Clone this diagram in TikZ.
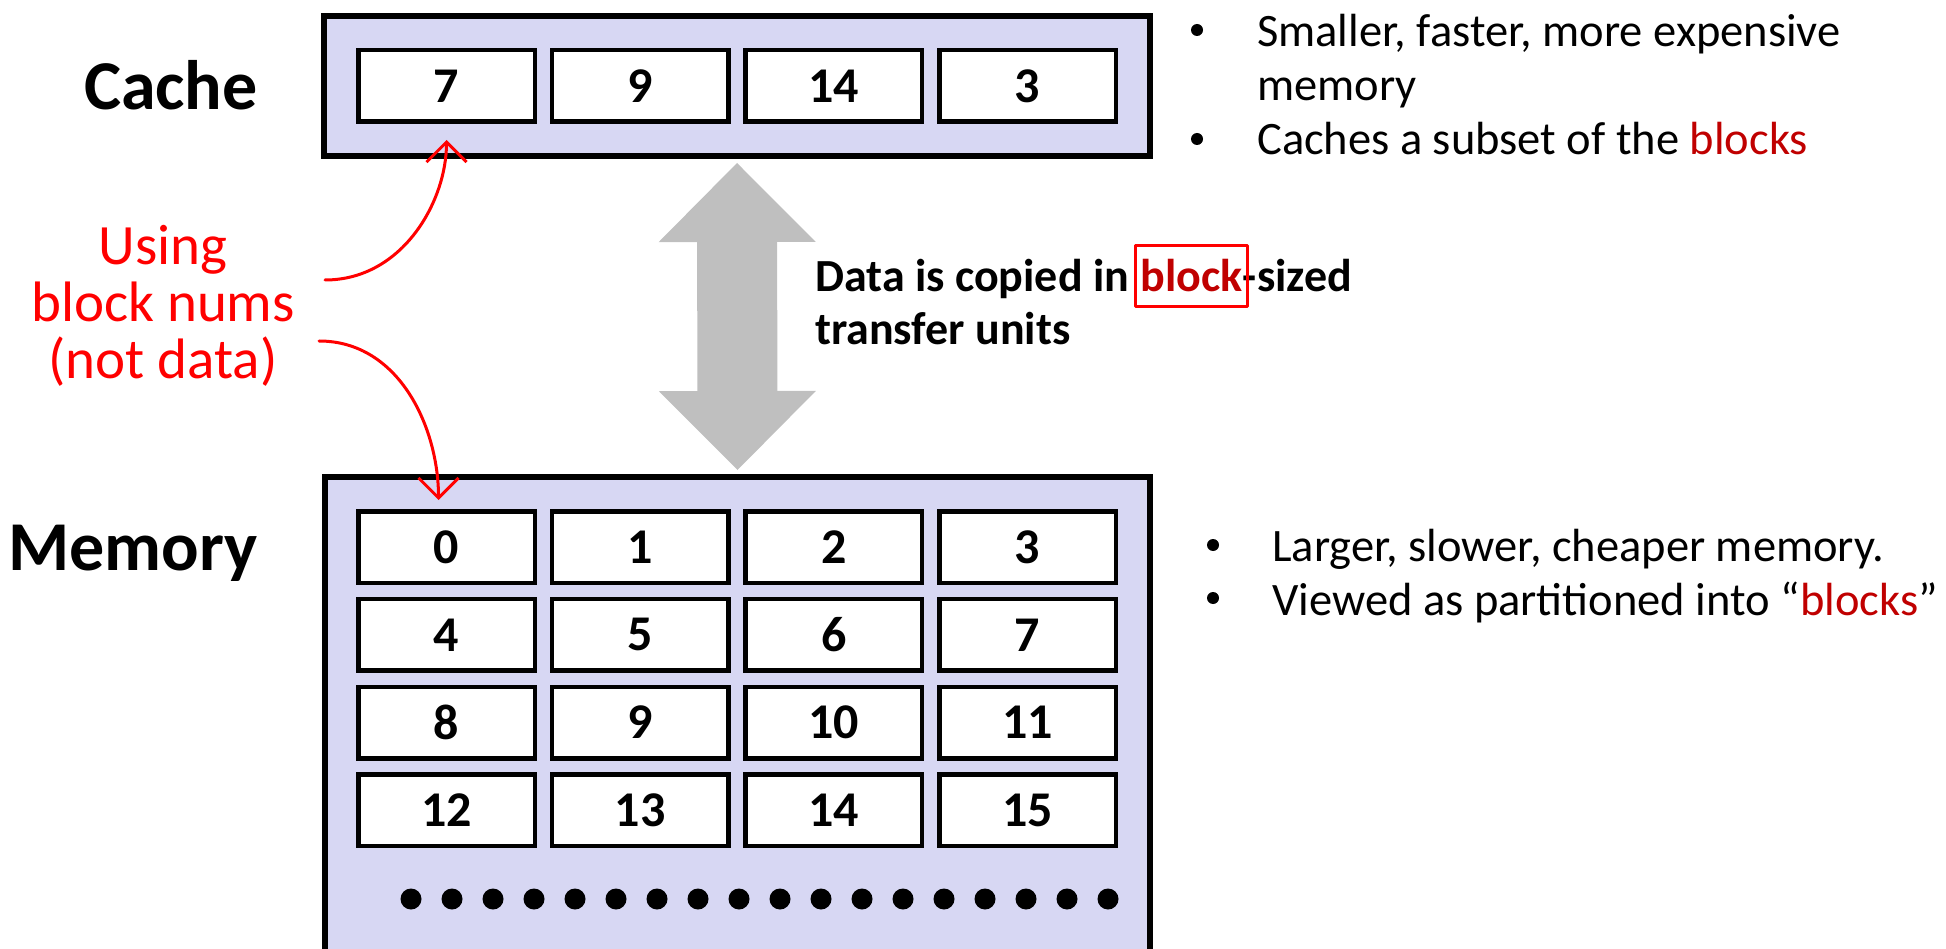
\documentclass[tikz,border=0pt]{standalone}
\usepackage{fontspec}
\setmainfont{Carlito}
\usetikzlibrary{arrows.meta,positioning,fit}

\definecolor{boxfill}{RGB}{215,215,243}
\definecolor{arrowgray}{RGB}{191,191,191}
\definecolor{blockred}{RGB}{192,0,0}
\definecolor{penred}{RGB}{255,0,0}

\tikzset{
  membox/.style={draw, line width=6pt, fill=boxfill, inner sep=0pt},
  cell/.style={draw, line width=4.5pt, fill=white, minimum width=176.5pt,
    minimum height=71.5pt, inner sep=0pt, font=\fontsize{50}{60}\selectfont\bfseries},
  biglabel/.style={font=\fontsize{70}{84}\selectfont\bfseries, inner sep=0pt, anchor=base east},
  midtext/.style={font=\fontsize{46}{53}\selectfont\bfseries, inner sep=0pt},
  bullettext/.style={font=\fontsize{46.5}{54}\selectfont, inner sep=0pt, anchor=base west},
  bulletdot/.style={circle, fill, inner sep=0pt, minimum size=12pt},
  pen/.style={draw=penred, line width=3pt, line cap=round, line join=round},
  penarrow/.style={pen, -{Straight Barb[length=20pt, width=40pt]}},
  copyarrow/.style={draw=arrowgray, line width=80pt,
    {Triangle[width=157pt, length=79pt, line width=0pt]}-{Triangle[width=157pt, length=79pt, line width=0pt]}}
}

\begin{document}
\begin{tikzpicture}[x=1pt, y=-1pt]
  \useasboundingbox (0,0) rectangle (1946,949);
  \clip (0,0) rectangle (1946,949);

  % cache
  \node[membox, minimum width=826pt, minimum height=140pt] (cache) at (737,86) {};
  \foreach \c/\num in {0/7,1/9,2/14,3/3}
    \node[cell] (c\c) at ({446.5+193.67*\c},86) {\num};
  \node[biglabel] (cachelabel) at (258,110) {Cache};

  % memory
  \node[membox, minimum width=825pt, minimum height=523pt] (mem) at (737.5,738.5) {};
  \foreach \r in {0,...,3}
    \foreach \c in {0,...,3} {
      \pgfmathtruncatemacro\num{4*\r+\c}
      \node[cell] (m\num) at ({446.5+193.67*\c},{547+87.8*\r}) {\num};
    }
  \foreach \k in {0,1,...,17}
    \fill (411+41*\k,899) circle (10.5pt);
  \node[biglabel] (memlabel) at (258,570) {Memory};

  % transfer
  \draw[copyarrow, shorten <=4pt, shorten >=4pt] (cache.south) -- (mem.north);
  \node[midtext, anchor=base west] (cp1) at (815,292) {Data is copied in};
  \node[midtext, text=blockred, base right=11pt of cp1] (blk) {block};
  \node[midtext, base right=0pt of blk] (cp2) {-sized};
  \node[midtext, anchor=base west] (cp3) at (815,345) {transfer units};
  \node[pen, fit=(blk), inner xsep=5pt, inner ysep=14pt] (blkbox) {};

  % bullets
  \node[bulletdot] (b1) at (1197,30) {};
  \node[bullettext] (t1) at (1257,47) {Smaller, faster, more expensive};
  \node[bullettext] (t1b) at (1257,101) {memory};
  \node[bulletdot] (b2) at (1197,139) {};
  \node[bullettext] (t2) at (1257,155) {Caches a subset of the \textcolor{blockred}{blocks}};
  \node[bulletdot] (b3) at (1213,545) {};
  \node[bullettext] (t3) at (1272,561) {Larger, slower, cheaper memory.};
  \node[bulletdot] (b4) at (1213,598) {};
  \node[bullettext] (t4) at (1272,615) {Viewed as partitioned into “\textcolor{blockred}{blocks}”};

  % note
  \node[text=penred, align=center, font=\fontsize{57}{57}\selectfont, inner sep=0pt] (note) at (163,306) {Using\\block nums\\(not data)};
  \coordinate (n1) at (325,280);
  \coordinate (n2) at (319,341);
  \draw[penarrow, shorten >=16pt] (n1) to[out=0, in=-90] (c0.south);
  \draw[penarrow, shorten >=9pt] (n2) to[out=0, in=90] ([xshift=-8pt]m0.north);
\end{tikzpicture}
\end{document}
